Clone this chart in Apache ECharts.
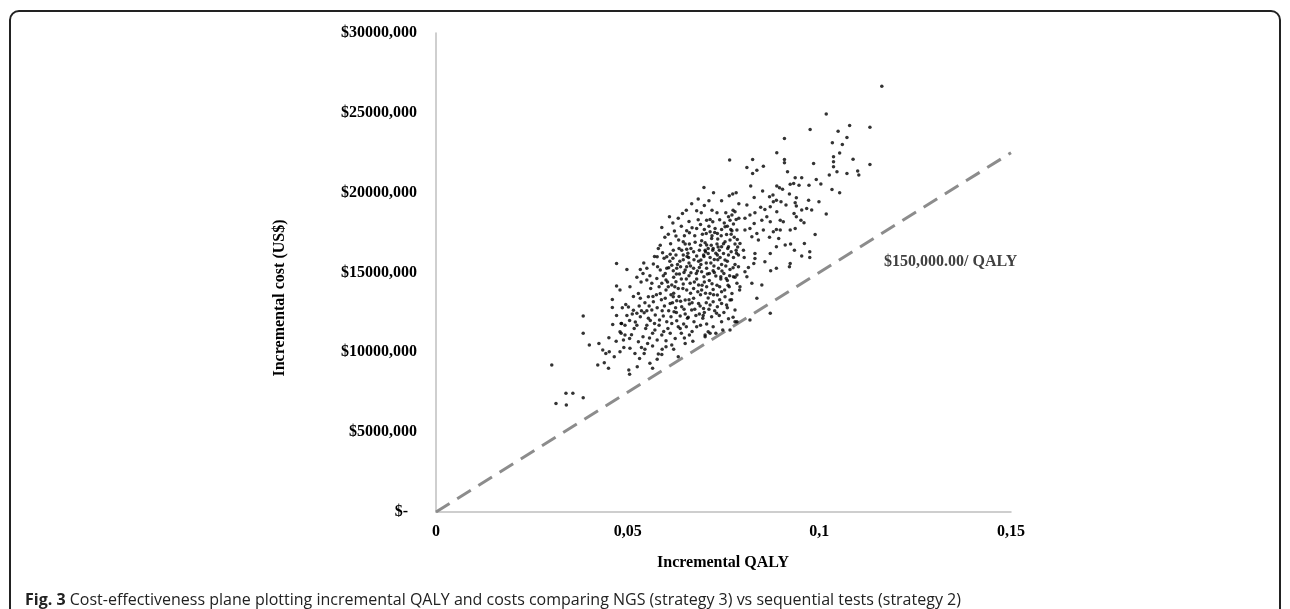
<!DOCTYPE html>
<html>
<head>
<meta charset="utf-8">
<script src="https://cdn.jsdelivr.net/npm/echarts@6/dist/echarts.min.js"></script>
<style>
  html, body { margin: 0; padding: 0; background: #fff; overflow: hidden; }
  #frame {
    position: absolute; left: 9px; top: 10px; width: 1272px; height: 640px;
    border: 2px solid #222; border-radius: 10px; box-sizing: border-box;
  }
  #chart { position: absolute; left: 0; top: 0; width: 1290px; height: 609px; }
</style>
</head>
<body>
<div id="frame"></div>
<div id="chart"></div>
<script>
// incremental QALY / incremental cost (US$) of each simulation
const simPoints = [
  [0.0302,9200],[0.0313,6800],[0.0340,6700],[0.0339,7430],[0.0357,7430],
  [0.0384,7160],[0.0384,12270],[0.0384,11190],
  [0.0400,10460],[0.0425,10560],[0.0422,9200],[0.0435,10140],[0.0439,9350],[0.0443,9930],[0.0450,9000],
  [0.0452,10040],[0.0460,13310],[0.0460,12810],[0.0461,11750],[0.0465,9730],[0.0471,14150],[0.0471,12310],
  [0.0471,15570],[0.0451,10910],[0.0480,10040],[0.0483,11190],[0.0483,11810],[0.0489,10770],[0.0498,15190],
  [0.0533,15190],[0.0540,14940],[0.0550,15260],
  [0.0567,15530],[0.0578,15360],[0.0585,15150],[0.0598,14940],[0.0602,15260],
  [0.0615,15460],[0.0619,15110],[0.0628,15260],[0.0638,15360],[0.0635,14900],[0.0650,15150],[0.0654,15360],
  [0.0665,14980],[0.0672,15260],[0.0679,14940],[0.0687,15320],[0.0693,15050],[0.0699,14730],
  [0.0706,15260],[0.0713,14940],[0.0723,15110],[0.0730,14780],[0.0737,15260],[0.0743,14730],[0.0751,14940],[0.0757,14630],
  [0.0767,15190],[0.0776,14730],[0.0785,14840],[0.0789,15360],
  [0.0550,14530],[0.0563,14320],[0.0576,14630],[0.0589,14320],[0.0600,14530],[0.0606,14110],
  [0.0615,14210],[0.0626,14420],[0.0632,14000],[0.0645,14280],[0.0654,13900],[0.0663,14320],[0.0672,14000],
  [0.0685,14210],[0.0693,13900],[0.0706,14110],[0.0715,13690],[0.0723,13940],[0.0734,13590],[0.0745,13800],[0.0754,13480],
  [0.0765,14110],[0.0772,13690],[0.0785,14320],[0.0792,13900],
  [0.0506,14110],[0.0528,13690],[0.0533,13380],[0.0554,13480],[0.0567,13170],[0.0585,13690],[0.0598,13380],[0.0611,13060],
  [0.0619,13480],[0.0628,13230],[0.0641,12860],[0.0650,13270],[0.0661,13020],[0.0672,13380],[0.0685,13060],[0.0698,12750],
  [0.0705,13110],[0.0715,12960],[0.0723,13170],[0.0734,12860],[0.0745,13060],[0.0758,12960],[0.0767,13270],[0.0780,12650],
  [0.0484,11810],[0.0493,11690],[0.0502,12840],[0.0515,12630],[0.0524,12440],[0.0533,12230],[0.0543,12480],
  [0.0554,12130],[0.0563,12650],[0.0572,12340],[0.0583,12020],[0.0593,12270],[0.0602,11920],[0.0613,12230],[0.0621,12540],
  [0.0628,11980],[0.0637,12270],[0.0646,11770],[0.0656,12130],[0.0667,12650],[0.0673,11920],[0.0687,12400],[0.0696,12130],
  [0.0706,11770],[0.0719,12230],[0.0732,12440],[0.0745,11920],[0.0767,11400],[0.0748,11400],
  [0.0480,11290],[0.0493,11080],[0.0505,10870],[0.0517,11500],[0.0528,10660],[0.0540,10980],[0.0552,10560],[0.0565,11190],
  [0.0577,10770],[0.0589,11080],[0.0600,10730],[0.0611,11190],[0.0624,10870],[0.0637,11500],[0.0650,10560],[0.0661,11080],
  [0.0680,11610],[0.0702,11080],[0.0710,11290],[0.0723,11610],[0.0785,11920],
  [0.0506,10250],[0.0519,9930],[0.0531,9620],[0.0543,9930],[0.0558,9310],[0.0565,9000],[0.0577,9560],[0.0589,9870],
  [0.0600,10350],[0.0615,10460],[0.0632,9730],
  [0.0503,8890],[0.0505,8620],[0.0525,9100],[0.0702,10980],[0.0715,11190],[0.0780,11920],
  [0.0699,20320],[0.0774,19910],[0.0783,19990],[0.0680,18870],[0.0692,18740],[0.0609,18490],[0.0643,18700],
  [0.0706,18280],[0.0715,18320],[0.0722,18180],[0.0733,18740],
  [0.0756,18740],[0.0763,18490],[0.0772,18600],[0.0767,18280],[0.0776,18030],[0.0780,18800],[0.0783,18320],
  [0.0589,17820],[0.0654,17610],[0.0661,17490],[0.0680,17760],
  [0.0705,17450],[0.0715,17550],[0.0728,17760],[0.0734,17450],
  [0.0745,17700],[0.0754,17860],[0.0758,17380],[0.0772,17610],[0.0785,17660],
  [0.0626,17280],[0.0633,17030],[0.0645,16930],[0.0650,16780],[0.0661,16780],
  [0.0693,16990],[0.0702,16860],[0.0706,16720],
  [0.0719,17130],[0.0723,16510],[0.0733,16780],[0.0739,16400],[0.0745,16610],
  [0.0754,16930],[0.0763,16610],[0.0767,17030],[0.0780,16780],[0.0786,17070],
  [0.0580,16510],[0.0591,16240],[0.0577,15990],
  [0.0602,15990],[0.0611,16150],[0.0619,16400],[0.0626,16090],
  [0.0641,16400],[0.0645,16090],[0.0654,16450],[0.0659,15940],
  [0.0672,16300],[0.0680,16030],[0.0687,16400],[0.0691,15780],[0.0698,16090],[0.0702,16400],
  [0.0710,16190],[0.0715,15940],[0.0722,16400],[0.0726,15820],[0.0734,16090],[0.0741,15940],[0.0750,16190],[0.0754,15780],
  [0.0763,16090],[0.0776,15940],[0.0783,16400],[0.0789,16090],
  [0.0640,17900],[0.0660,18200],[0.0690,18000],[0.0700,17700],[0.0720,17300],[0.0735,17100],[0.0750,16800],[0.0770,17400],
  [0.0760,17900],[0.0740,18300],[0.0775,18900],[0.0720,18900],[0.0700,19200],[0.0745,19500],[0.0765,19800],[0.0790,19300],
  [0.0790,18400],[0.0675,17300],[0.0665,16500],[0.0690,16700],[0.0710,16500],[0.0730,16200],[0.0745,15500],[0.0760,15700],
  [0.0780,15500],[0.0770,16300],[0.0725,15400],[0.0705,15600],[0.0685,15700],[0.0660,15600],[0.0645,15800],[0.0630,15500],
  [0.0610,15700],[0.0595,15900],[0.0620,14700],[0.0640,14600],[0.0660,14800],[0.0680,14600],[0.0700,14400],[0.0720,14300],
  [0.0740,14100],[0.0760,14500],[0.0780,14700],[0.0600,13900],[0.0620,13700],[0.0660,13300],[0.0690,13600],[0.0710,13400],
  [0.0740,13300],[0.0575,13600],[0.0560,14000],[0.0545,13100],[0.0530,12900],[0.0590,12600],[0.0625,12800],[0.0650,12400],
  [0.0675,12700],[0.0700,12500],[0.0520,11900],[0.0550,11700],[0.0570,11800],[0.0605,11500],[0.0640,11200],[0.0545,10200],
  [0.0565,10400],[0.0590,10200],[0.0535,14400],[0.0550,12600],[0.0515,13500],[0.0495,13000],[0.0480,13900],[0.0505,12000],
  [0.0490,10300],[0.0470,10700],
  [0.0612,16800],[0.0622,17600],[0.0634,16500],[0.0648,17300],[0.0657,16200],[0.0668,17800],[0.0676,16900],[0.0684,18300],
  [0.0695,17400],[0.0703,16300],[0.0712,17900],[0.0718,16700],[0.0727,17500],[0.0736,16600],[0.0744,17300],[0.0752,18100],
  [0.0761,16500],[0.0769,17700],[0.0778,17200],[0.0787,16600],
  [0.0607,15300],[0.0618,15900],[0.0627,14900],[0.0636,15700],[0.0647,15000],[0.0655,16000],[0.0664,15400],[0.0673,15800],
  [0.0682,15100],[0.0691,15500],[0.0699,16000],[0.0708,14900],[0.0717,15600],[0.0726,15000],[0.0735,15800],[0.0746,15100],
  [0.0756,15400],[0.0766,14800],[0.0775,15300],[0.0784,16200],
  [0.0582,14100],[0.0593,14800],[0.0604,14400],[0.0613,13600],[0.0623,14100],[0.0634,13500],[0.0644,14000],[0.0653,14600],
  [0.0664,13700],[0.0674,14400],[0.0683,13800],[0.0694,14200],[0.0703,13700],[0.0713,14500],[0.0724,13600],[0.0733,14200],
  [0.0743,14600],[0.0753,13900],[0.0762,14200],[0.0771,13300],
  [0.0556,12900],[0.0566,13500],[0.0577,12800],[0.0588,13300],[0.0596,12900],[0.0607,12600],[0.0617,13100],[0.0627,12500],
  [0.0638,13200],[0.0647,12700],[0.0658,12200],[0.0668,13100],[0.0678,12300],[0.0689,12900],[0.0697,12300],[0.0712,12700],
  [0.0727,12600],[0.0739,12300],[0.0751,12500],[0.0763,12100],
  [0.0512,12400],[0.0524,11700],[0.0536,12600],[0.0547,11500],[0.0559,12000],[0.0571,11400],[0.0582,11700],[0.0594,11300],
  [0.0615,11800],[0.0632,11600],[0.0653,11600],[0.0668,11300],[0.0690,11700],
  [0.0524,14700],[0.0542,15600],[0.0558,14800],[0.0570,16000],[0.0585,16700],[0.0597,17200],[0.0606,17400],[0.0618,18100],
  [0.0632,18400],[0.0653,18900],[0.0667,19300],[0.0684,19600],[0.0712,19500],[0.0724,20000],[0.0766,22040],
  [0.0498,12300],[0.0486,12800],[0.0510,11100],[0.0536,10300],[0.0557,10900],[0.0580,9900],[0.0620,10200],[0.0648,10900],
  [0.0670,10700],[0.0730,11200],[0.0760,12800],[0.0775,12200],
  [0.1163,26670],[0.1018,24920],[0.0976,23960],[0.0909,23390],[0.1049,23850],[0.1079,24210],[0.1132,24100],[0.1072,23460],
  [0.1034,23120],[0.1060,23020],[0.1053,22480],[0.1037,22250],[0.1037,21930],[0.1037,21620],[0.1088,22100],[0.0985,21830],
  [0.0889,22500],[0.0909,22080],[0.0909,21870],[0.0826,22080],[0.0811,21580],[0.0826,21200],[0.0837,21410],[0.0854,21660],
  [0.0917,21310],[0.1026,21100],[0.1046,21310],[0.1072,21200],[0.1100,21350],[0.1103,21100],[0.1132,21770],[0.0992,20830],
  [0.1004,20540],[0.0954,20930],[0.0937,20930],[0.0933,20580],[0.0924,20520],[0.0947,20470],[0.0973,20470],[0.0821,20410],
  [0.0852,20100],[0.0889,20410],[0.0896,20310],[0.0904,20220],[0.1033,20200],[0.1053,19990],[0.0999,19430],[0.0972,19530],
  [0.1018,18660],[0.0940,19680],[0.0922,19910],[0.0879,19850],[0.0870,19740],[0.0830,19700],[0.0811,19220],[0.0880,19430],
  [0.0888,19530],[0.0900,19430],[0.0913,19220],[0.0937,19370],[0.0940,19160],[0.0967,19010],[0.0980,18910],[0.0954,18910],
  [0.0847,19080],[0.0858,18950],[0.0832,18740],[0.0819,18600],[0.0872,19120],[0.0889,18800],[0.0934,18700],[0.0940,18490],
  [0.0898,18280],[0.0906,18180],[0.0952,18280],[0.0960,18110],[0.0863,18490],[0.0872,18180],[0.0850,18280],[0.0806,18390],
  [0.0830,18070],[0.0819,17760],[0.0937,17760],[0.0924,17660],[0.0888,17700],[0.0898,17660],[0.0880,17550],[0.0854,17660],
  [0.0837,17450],[0.0806,17660],[0.0824,17240],[0.0841,17030],[0.0870,17200],[0.0894,17130],[0.0989,17380],[0.0793,16820],
  [0.0802,16400],[0.0911,16720],[0.0925,16780],[0.0961,16820],[0.0935,16400],[0.0888,16610],[0.0872,16190],[0.0954,16030],
  [0.0975,16300],[0.0975,15940],[0.0832,16190],[0.0832,15880],[0.0804,15940],[0.0815,15320],[0.0829,15570],[0.0858,15670],
  [0.0924,15570],[0.0922,15360],[0.0888,15260],[0.0873,15110],[0.0806,15050],[0.0811,14730],[0.0824,14320],[0.0850,14210],
  [0.0793,14110],[0.0837,13380],[0.0872,12440],[0.0819,12020]
];

// willingness-to-pay threshold line, $150,000 per QALY
const thresholdQaly = [0, 0.15];
const thresholdCost = [0, 22500];

const xTicks = [0, 0.05, 0.1, 0.15];
const yTicks = [0, 5000, 10000, 15000, 20000, 25000, 30000];

const serif = 'Liberation Serif';
const chart = echarts.init(document.getElementById('chart'));

chart.setOption({
  animation: false,
  grid: { left: 436, top: 33, right: 279, bottom: 97 },
  xAxis: {
    type: 'value',
    min: xTicks[0],
    max: xTicks[xTicks.length - 1],
    interval: 0.05,
    splitLine: { show: false },
    axisTick: { show: false },
    axisLine: { lineStyle: { color: '#bfbfbf', width: 1.5 } },
    axisLabel: {
      margin: 12,
      fontFamily: serif, fontWeight: 'bold', fontSize: 16, color: '#000',
      formatter: v => String(+v.toFixed(2)).replace('.', ',')
    }
  },
  yAxis: {
    type: 'value',
    min: yTicks[0],
    max: yTicks[yTicks.length - 1],
    interval: 5000,
    splitLine: { show: false },
    axisTick: { show: false },
    axisLine: { show: true, lineStyle: { color: '#bfbfbf', width: 1.5 } },
    axisLabel: {
      margin: 19,
      fontFamily: serif, fontWeight: 'bold', fontSize: 16, color: '#000',
      formatter: v => v === 0 ? '{z|$-}' : '$' + v + ',000',
      rich: {
        z: { fontFamily: serif, fontWeight: 'bold', fontSize: 16, color: '#000', padding: [0, 9, 0, 0] }
      }
    }
  },
  graphic: [
    {
      type: 'text', x: 723, y: 563,
      style: {
        text: 'Incremental QALY', font: 'bold 16px "Liberation Serif"', fill: '#000',
        align: 'center', verticalAlign: 'middle'
      }
    },
    {
      type: 'text', x: 280, y: 298, rotation: Math.PI / 2,
      style: {
        text: 'Incremental cost (US$)', font: 'bold 16px "Liberation Serif"', fill: '#000',
        align: 'center', verticalAlign: 'middle'
      }
    },
    {
      type: 'text', x: 884, y: 262,
      style: {
        text: '$150,000.00/ QALY', font: 'bold 16px "Liberation Serif"', fill: '#404040',
        verticalAlign: 'middle'
      }
    },
    {
      type: 'text', x: 25, y: 600,
      style: {
        text: '{b|Fig. 3} Cost-effectiveness plane plotting incremental QALY and costs comparing NGS (strategy 3) vs sequential tests (strategy 2)',
        verticalAlign: 'middle',
        rich: {
          b: { fontFamily: 'Open Sans', fontWeight: 'bold', fontSize: 16, fill: '#222' }
        },
        font: '16px "Open Sans"', fill: '#222'
      }
    }
  ],
  series: [
    {
      type: 'line',
      data: thresholdQaly.map((q, i) => [q, thresholdCost[i]]),
      symbol: 'none',
      lineStyle: { color: '#8c8c8c', width: 3, type: [16, 9] },
      z: 1
    },
    {
      type: 'scatter',
      data: simPoints,
      symbolSize: 3.5,
      itemStyle: { color: '#000' },
      z: 2
    }
  ]
});
</script>
</body>
</html>
